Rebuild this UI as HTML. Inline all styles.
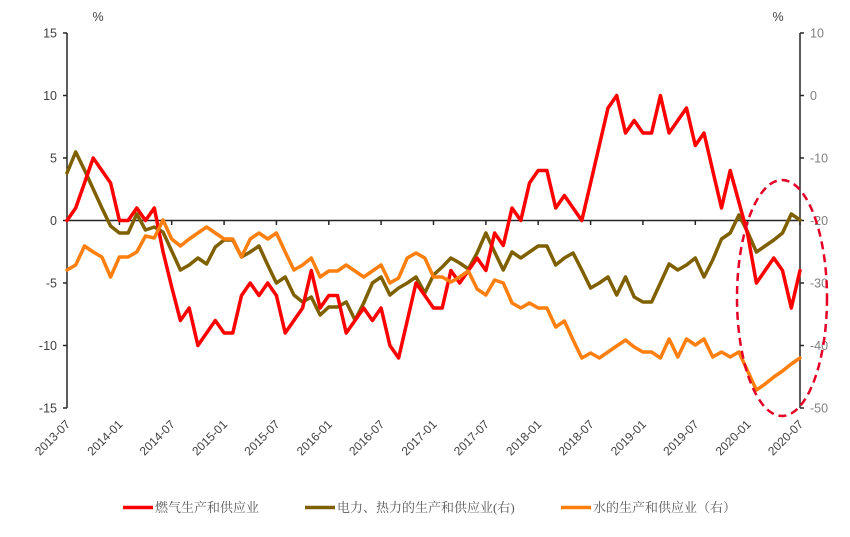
<!DOCTYPE html>
<html>
<head>
<meta charset="utf-8">
<style>
  html, body { margin: 0; padding: 0; background: #ffffff; }
  svg { display: block; }
  .tl { font-family: "Liberation Sans", "Noto Sans CJK SC", sans-serif; font-size: 12.5px; fill: #404040; }
  .tr { font-family: "Liberation Sans", "Noto Sans CJK SC", sans-serif; font-size: 12.5px; fill: #7f7f7f; }
  .tx { font-family: "Liberation Sans", "Noto Sans CJK SC", sans-serif; font-size: 12px; fill: #404040; }
  .lg { font-family: "Liberation Serif", "Noto Serif CJK SC", serif; font-size: 13px; fill: #595959; }
</style>
</head>
<body>
<svg width="850" height="537" viewBox="0 0 850 537" xmlns="http://www.w3.org/2000/svg">
  <rect x="0" y="0" width="850" height="537" fill="#ffffff"/>

  <!-- percent labels -->
  <text class="tl" x="98" y="21" text-anchor="middle">%</text>
  <text class="tl" x="778" y="21" text-anchor="middle">%</text>

  <!-- left axis -->
  <g stroke="#262626" stroke-width="1.5" fill="none">
    <line x1="67" y1="33" x2="67" y2="408"/>
    <line x1="63" y1="33" x2="67" y2="33"/>
    <line x1="63" y1="95.5" x2="67" y2="95.5"/>
    <line x1="63" y1="158" x2="67" y2="158"/>
    <line x1="63" y1="220.5" x2="67" y2="220.5"/>
    <line x1="63" y1="283" x2="67" y2="283"/>
    <line x1="63" y1="345.5" x2="67" y2="345.5"/>
    <line x1="63" y1="408" x2="67" y2="408"/>
    <!-- right axis -->
    <line x1="800" y1="33" x2="800" y2="408"/>
    <line x1="800" y1="33" x2="804" y2="33"/>
    <line x1="800" y1="95.5" x2="804" y2="95.5"/>
    <line x1="800" y1="158" x2="804" y2="158"/>
    <line x1="800" y1="220.5" x2="804" y2="220.5"/>
    <line x1="800" y1="283" x2="804" y2="283"/>
    <line x1="800" y1="345.5" x2="804" y2="345.5"/>
    <line x1="800" y1="408" x2="804" y2="408"/>
    <!-- x axis -->
    <line x1="67" y1="220.5" x2="800" y2="220.5"/>
    <line x1="119.4" y1="220.5" x2="119.4" y2="225"/>
    <line x1="171.7" y1="220.5" x2="171.7" y2="225"/>
    <line x1="224.1" y1="220.5" x2="224.1" y2="225"/>
    <line x1="276.4" y1="220.5" x2="276.4" y2="225"/>
    <line x1="328.8" y1="220.5" x2="328.8" y2="225"/>
    <line x1="381.1" y1="220.5" x2="381.1" y2="225"/>
    <line x1="433.5" y1="220.5" x2="433.5" y2="225"/>
    <line x1="485.9" y1="220.5" x2="485.9" y2="225"/>
    <line x1="538.2" y1="220.5" x2="538.2" y2="225"/>
    <line x1="590.6" y1="220.5" x2="590.6" y2="225"/>
    <line x1="642.9" y1="220.5" x2="642.9" y2="225"/>
    <line x1="695.3" y1="220.5" x2="695.3" y2="225"/>
    <line x1="747.6" y1="220.5" x2="747.6" y2="225"/>
    <line x1="800" y1="220.5" x2="800" y2="225"/>
  </g>

  <!-- left tick labels -->
  <g class="tl" text-anchor="end">
    <text x="57" y="37.5">15</text>
    <text x="57" y="100">10</text>
    <text x="57" y="162.5">5</text>
    <text x="57" y="225">0</text>
    <text x="57" y="287.5">-5</text>
    <text x="57" y="350">-10</text>
    <text x="57" y="412.5">-15</text>
  </g>
  <!-- right tick labels -->
  <g class="tr" text-anchor="start">
    <text x="810" y="37.5">10</text>
    <text x="810" y="100">0</text>
    <text x="810" y="162.5">-10</text>
    <text x="810" y="225">-20</text>
    <text x="810" y="287.5">-30</text>
    <text x="810" y="350">-40</text>
    <text x="810" y="412.5">-50</text>
  </g>

  <!-- x tick labels -->
  <g class="tx" text-anchor="end">
    <text transform="translate(71,425) rotate(-45)">2013-07</text>
    <text transform="translate(123.4,425) rotate(-45)">2014-01</text>
    <text transform="translate(175.7,425) rotate(-45)">2014-07</text>
    <text transform="translate(228.1,425) rotate(-45)">2015-01</text>
    <text transform="translate(280.4,425) rotate(-45)">2015-07</text>
    <text transform="translate(332.8,425) rotate(-45)">2016-01</text>
    <text transform="translate(385.1,425) rotate(-45)">2016-07</text>
    <text transform="translate(437.5,425) rotate(-45)">2017-01</text>
    <text transform="translate(489.9,425) rotate(-45)">2017-07</text>
    <text transform="translate(542.2,425) rotate(-45)">2018-01</text>
    <text transform="translate(594.6,425) rotate(-45)">2018-07</text>
    <text transform="translate(646.9,425) rotate(-45)">2019-01</text>
    <text transform="translate(699.3,425) rotate(-45)">2019-07</text>
    <text transform="translate(751.6,425) rotate(-45)">2020-01</text>
    <text transform="translate(804,425) rotate(-45)">2020-07</text>
  </g>

  <!-- olive series: 电力、热力 (right axis) -->
  <polyline fill="none" stroke="#7f6000" stroke-width="3.5" stroke-linejoin="round" stroke-linecap="round"
    points="67,173 75.7,152 84.5,170 93.2,189 101.9,208 110.6,226 119.4,233 128.1,233 136.8,214 145.5,230 154.3,227 163,232 171.7,251 180.4,270 189.2,265 197.9,258 206.6,264 215.3,247 224.1,240 232.8,240 241.5,257 250.2,252 259,246 267.7,265 276.4,283 285.2,277 293.9,295 302.6,302 311.3,297 320.1,315 328.8,307 337.5,307 346.2,302 355,320 363.7,303 372.4,283 381.1,277 389.9,295 398.6,288 407.3,283 416,277 424.8,293 433.5,275 442.2,267 450.9,258 459.7,263 468.4,269 477.1,253 485.9,233 494.6,252 503.3,270 512,252 520.8,258 529.5,252 538.2,246 546.9,246 555.7,265 564.4,258 573.1,253 581.8,270 590.6,288 599.3,283 608,277 616.7,295 625.5,277 634.2,297 642.9,302 651.6,302 660.4,283 669.1,264 677.8,270 686.5,265 695.3,258 704,277 712.7,260 721.5,239 730.2,233 738.9,215 747.6,232 756.4,252 765.1,246 773.8,240 782.5,233 791.3,214 800,220"/>

  <!-- red series: 燃气 (left axis) -->
  <polyline fill="none" stroke="#ff0000" stroke-width="3.5" stroke-linejoin="round" stroke-linecap="round"
    points="67,220.5 75.7,208 84.5,183 93.2,158 101.9,170.5 110.6,183 119.4,220.5 128.1,220.5 136.8,208 145.5,220.5 154.3,208 163,251.5 171.7,287 180.4,320.5 189.2,308 197.9,345.5 206.6,333 215.3,320.5 224.1,333 232.8,333 241.5,295.5 250.2,283 259,295.5 267.7,283 276.4,295.5 285.2,333 293.9,320.5 302.6,308 311.3,270.5 320.1,308 328.8,295.5 337.5,295.5 346.2,333 355,320.5 363.7,308 372.4,320.5 381.1,308 389.9,345.5 398.6,358 407.3,320.5 416,283 424.8,295.5 433.5,308 442.2,308 450.9,270.5 459.7,283 468.4,270.5 477.1,258 485.9,270.5 494.6,233 503.3,245.5 512,208 520.8,220.5 529.5,183 538.2,170.5 546.9,170.5 555.7,208 564.4,195.5 573.1,208 581.8,220.5 590.6,183 599.3,145.5 608,108 616.7,95.5 625.5,133 634.2,120.5 642.9,133 651.6,133 660.4,95.5 669.1,133 677.8,120.5 686.5,108 695.3,145.5 704,133 712.7,170.5 721.5,208 730.2,170.5 738.9,202 747.6,234 756.4,283 765.1,270.5 773.8,258 782.5,270.5 791.3,308 800,270.5"/>

  <!-- orange series: 水 (right axis) -->
  <polyline fill="none" stroke="#ff7f0e" stroke-width="3.5" stroke-linejoin="round" stroke-linecap="round"
    points="67,270 75.7,265 84.5,246 93.2,252 101.9,257 110.6,277 119.4,257 128.1,257 136.8,252 145.5,236 154.3,238 163,220 171.7,239 180.4,246 189.2,239 197.9,233 206.6,227 215.3,233 224.1,239 232.8,239 241.5,257 250.2,239 259,233 267.7,239 276.4,233 285.2,252 293.9,270 302.6,265 311.3,258 320.1,277 328.8,271 337.5,271 346.2,265 355,271 363.7,277 372.4,271 381.1,265 389.9,283 398.6,278 407.3,258 416,253 424.8,258 433.5,277 442.2,277 450.9,282 459.7,277 468.4,271 477.1,289 485.9,295 494.6,280 503.3,283 512,303 520.8,308 529.5,303 538.2,308 546.9,308 555.7,327 564.4,321 573.1,340 581.8,358 590.6,353 599.3,358 608,352 616.7,346 625.5,340 634.2,347 642.9,352 651.6,352 660.4,358 669.1,339 677.8,357 686.5,339 695.3,345 704,339 712.7,357 721.5,352 730.2,357 738.9,352 747.6,371 756.4,390 765.1,384 773.8,377 782.5,371 791.3,364 800,358"/>

  <!-- dashed ellipse highlight -->
  <ellipse cx="782" cy="298" rx="45" ry="118" fill="none" stroke="#e60026" stroke-width="2.5" stroke-dasharray="8,5"/>

  <!-- legend -->
  <line x1="123" y1="507.5" x2="153" y2="507.5" stroke="#ff0000" stroke-width="3.5"/>
  <text class="lg" x="155" y="512">燃气生产和供应业</text>
  <line x1="305" y1="507.5" x2="335" y2="507.5" stroke="#7f6000" stroke-width="3.5"/>
  <text class="lg" x="337" y="512">电力、热力的生产和供应业(右)</text>
  <line x1="561" y1="507.5" x2="591" y2="507.5" stroke="#ff7f0e" stroke-width="3.5"/>
  <text class="lg" x="593" y="512">水的生产和供应业（右）</text>
</svg>
</body>
</html>
